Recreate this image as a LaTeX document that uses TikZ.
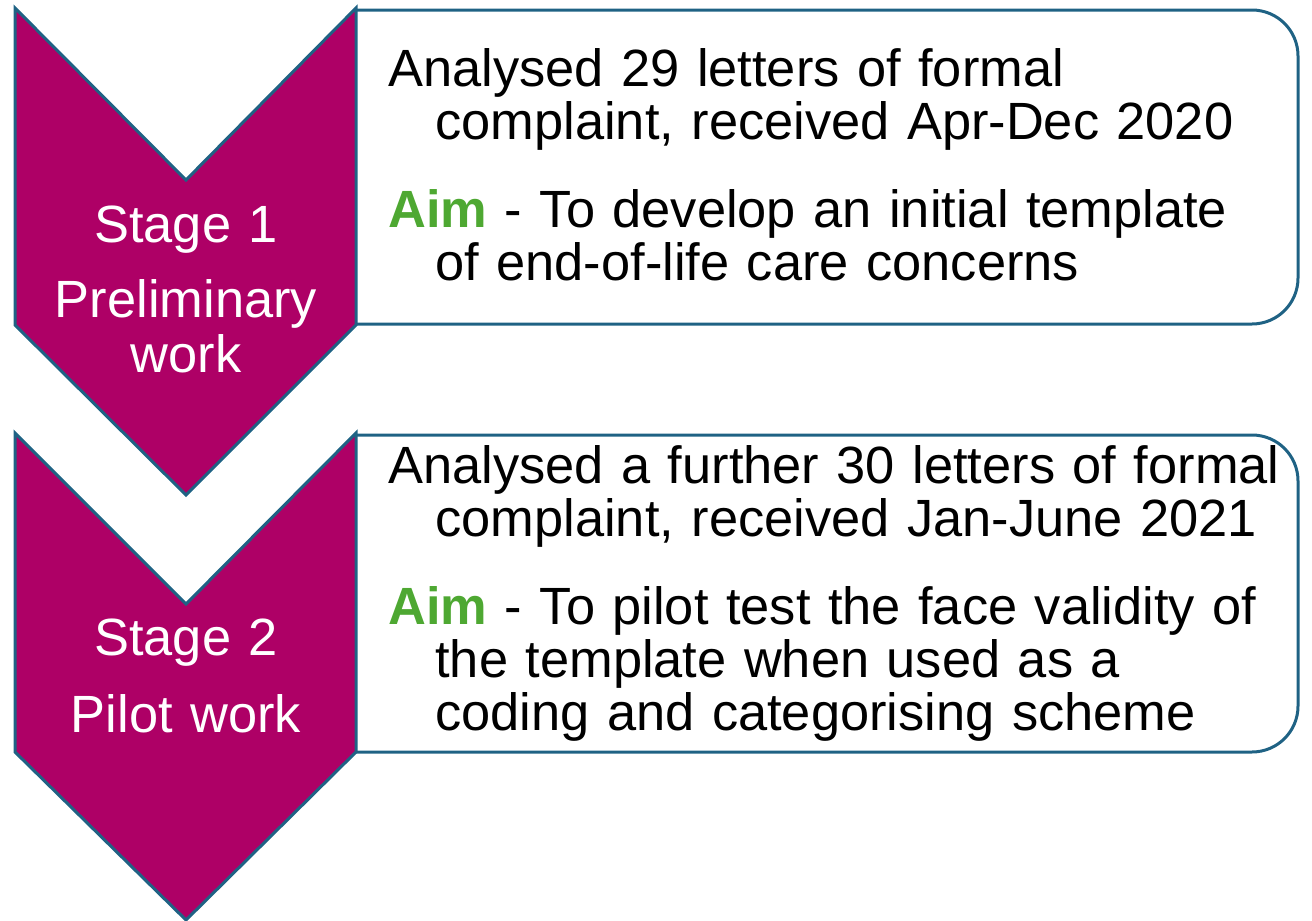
\documentclass[tikz,border=0pt]{standalone}
\usepackage{fontspec}
\setmainfont{Liberation Sans}
\definecolor{stagefill}{RGB}{174,0,102}
\definecolor{stageline}{RGB}{31,98,132}
\definecolor{aimgreen}{RGB}{78,168,50}
\newcommand{\aimword}{\textcolor{aimgreen}{\textbf{Aim}}}
\newcommand{\nextline}{\\\hspace*{23.5pt}}
\begin{document}
\begin{tikzpicture}[x=0.5pt,y=-0.5pt,
  chevron/.style={fill=stagefill,draw=stageline,line width=1.5pt,line join=miter},
  textbox/.style={draw=stageline,line width=1.5pt,rounded corners=23pt},
  stagetext/.style={text=white,text width=160pt,align=center,anchor=base,font=\fontsize{26.2}{27.5}\selectfont},
  boxtext/.style={text width=455pt,align=left,anchor=base west,font=\fontsize{26.2}{26.5}\selectfont}]
\tikzstyle{every node}+=[inner sep=0pt]
\useasboundingbox (0,0) rectangle (1312,921);
\draw [textbox] (356,324) -- (1298,324) -- (1298,10) -- (356,10);
\draw [textbox] (356,752) -- (1298,752) -- (1298,435) -- (356,435);
\draw [chevron] (15,8) -- (186,180) -- (356,8) -- (356,325) -- (186,495) -- (15,325) -- cycle;
\draw [chevron] (15,433) -- (186,604) -- (356,433) -- (356,752) -- (186,920) -- (15,752) -- cycle;
\node [stagetext] (stage1) at (186,242) {Stage 1\\[10pt]Preliminary\\work};
\node [stagetext] (stage2) at (186,655) {Stage 2\\[11pt]Pilot work};
\node [boxtext] (data1) at (388,86) {Analysed 29 letters of formal\nextline complaint, received Apr-Dec 2020};
\node [boxtext] (aim1) at (388,227) {\aimword{} - To develop an initial template\nextline of end-of-life care concerns};
\node [boxtext] (data2) at (388,483) {Analysed a further 30 letters of formal\nextline complaint, received Jan-June 2021};
\node [boxtext] (aim2) at (388,624) {\aimword{} - To pilot test the face validity of\nextline the template when used as a\nextline coding and categorising scheme};
\end{tikzpicture}
\end{document}
